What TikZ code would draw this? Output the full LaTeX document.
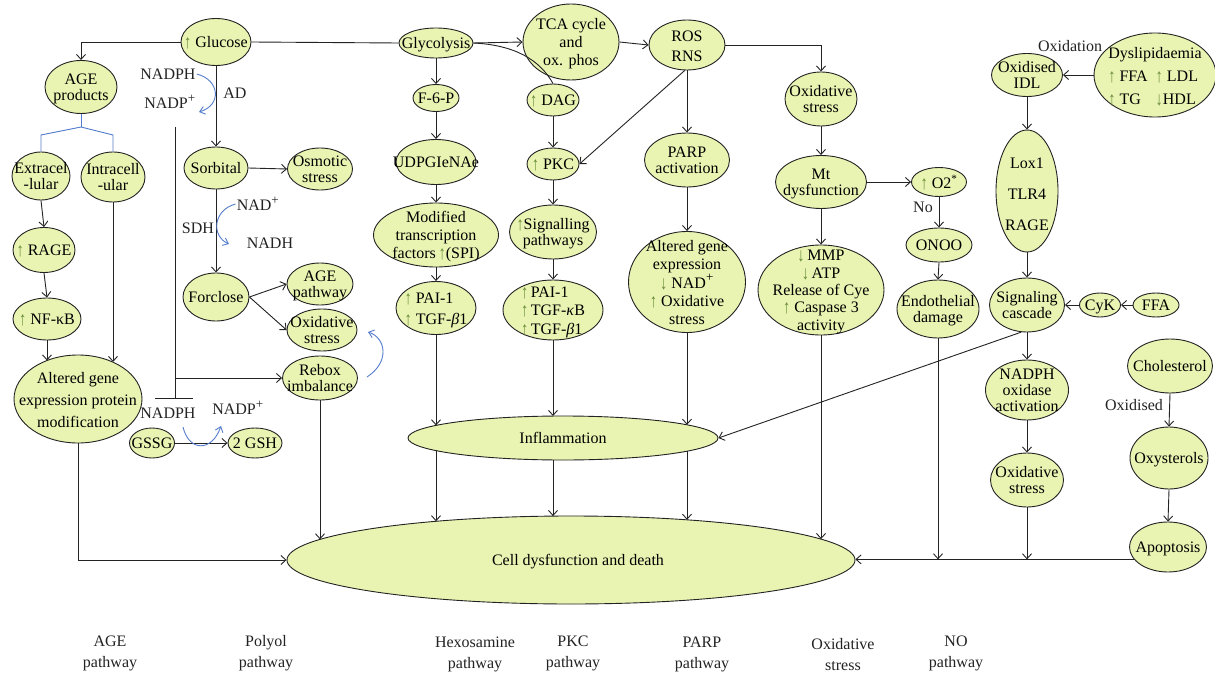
\documentclass[tikz,border=0pt]{standalone}
\usepackage{fontspec}
\usepackage{graphicx}
\setmainfont{Liberation Serif}
\usetikzlibrary{shapes.geometric,arrows.meta,calc}
\definecolor{fillc}{RGB}{233,244,178}
\definecolor{gr}{RGB}{105,140,55}
\definecolor{blc}{RGB}{85,125,205}
\definecolor{lnc}{RGB}{35,35,35}
\newcommand\up{{\color{gr}\raisebox{-1pt}{\scalebox{0.9}[1.2]{↑}}}}
\newcommand\dn{{\color{gr}\raisebox{-1pt}{\scalebox{0.9}[1.2]{↓}}}}
\newcommand\plusup{\textsuperscript{\fontsize{13}{13}\selectfont +}}
\newcommand\T[2][1]{\smash{\makebox[0pt]{\raisebox{-0.4em}{\def\arraystretch{#1}\begin{tabular}{@{}c@{}}#2\end{tabular}}}}}
\newcommand\TL[2][1]{\smash{\makebox[0pt]{\raisebox{-0.4em}{\def\arraystretch{#1}\begin{tabular}{@{}l@{}}#2\end{tabular}}}}}
\begin{document}
\begin{tikzpicture}[x=1pt,y=-1pt,font=\fontsize{16}{16}\selectfont,
  el/.style={ellipse,draw=lnc,line width=0.9pt,fill=fillc,inner sep=0pt},
  arr/.style={draw=lnc,line width=0.9pt,-{Straight Barb[length=5pt,width=9pt]}},
  plain/.style={draw=lnc,line width=0.9pt},
  blu/.style={draw=blc,line width=0.9pt,-{Straight Barb[length=5pt,width=8pt]}},
  bline/.style={draw=blc,line width=0.9pt},
  lbl/.style={inner sep=1pt,text=lnc}]
\fill[white] (0,0) rectangle (1215,674);
\useasboundingbox (0,0) rectangle (1215,674);

% ---- AGE / polyol ----
\node[el,minimum width=70,minimum height=47] (glu) at (216,42) {\T{\up\ Glucose}};
\node[el,minimum width=72,minimum height=53] (agep) at (81,87) {\T{AGE\\products}};
\node[el,minimum width=58,minimum height=48] (extra) at (41,176) {\T{Extracel\\-lular}};
\node[el,minimum width=64,minimum height=50] (intra) at (113,177) {\T{Intracell\\-ular}};
\node[el,minimum width=62,minimum height=45] (rage) at (44,250) {\T{\up\ RAGE}};
\node[el,minimum width=68,minimum height=42] (nfkb) at (47,319) {\T{\up\ NF-κB}};
\node[el,minimum width=128,minimum height=88] (altA) at (78,399) {\T[1.4]{Altered gene\\expression protein\\modification}};
\node[el,minimum width=64,minimum height=42] (sorb) at (216,168) {\T{Sorbital}};
\node[el,minimum width=65,minimum height=42] (osm) at (320,169) {\T{Osmotic\\stress}};
\node[el,minimum width=66,minimum height=48] (forc) at (216,297) {\T{Forclose}};
\node[el,minimum width=66,minimum height=42] (agepw) at (320,284) {\T{AGE\\pathway}};
\node[el,minimum width=70,minimum height=42] (oxp) at (322,330) {\T{Oxidative\\stress}};
\node[el,minimum width=75,minimum height=44] (rebox) at (320,378) {\T{Rebox\\imbalance}};
\node[el,minimum width=45,minimum height=30] (gssg) at (152,443) {\T{GSSG}};
\node[el,minimum width=54,minimum height=30] (gsh) at (255,443) {\T{2 GSH}};

% ---- hexosamine / PKC / PARP ----
\node[el,minimum width=74,minimum height=30] (gly) at (436,43) {\T{Glycolysis}};
\node[el,minimum width=96,minimum height=76] (tca) at (571,42) {\T[1.1]{TCA cycle\\and\\ox. phos}};
\node[el,minimum width=76,minimum height=50] (ros) at (687,45) {\T[1.25]{ROS\\RNS}};
\node[el,minimum width=46,minimum height=27] (f6p) at (436,98) {\T{F-6-P}};
\node[el,minimum width=80,minimum height=45] (udp) at (436,162) {\T{UDPGIeNAe}};
\node[el,minimum width=125,minimum height=64] (mod) at (436,235) {\T[1.12]{Modified\\transcription\\factors\,\up(SPI)}};
\node[el,minimum width=80,minimum height=53] (paih) at (436,308) {\TL[1.3]{\up\ PAI-1\\\up\ TGF-\textit{β}1}};
\node[el,minimum width=52,minimum height=32] (dag) at (553,100) {\T{\up\ DAG}};
\node[el,minimum width=52,minimum height=32] (pkc) at (553,164) {\T{\up\ PKC}};
\node[el,minimum width=87,minimum height=54] (sig) at (553,232) {\T{\up Signalling\\pathways}};
\node[el,minimum width=100,minimum height=60] (paip) at (553,310) {\TL[1.15]{\up\,PAI-1\\\up\,TGF-\textit{κ}B\\\up\,TGF-\textit{β}1}};
\node[el,minimum width=310,minimum height=44] (infl) at (563,438) {\T{Inflammation}};
\node[el,minimum width=85,minimum height=54] (parp) at (687,160) {\T{PARP\\activation}};
\node[el,minimum width=117,minimum height=101] (altP) at (687,282) {\T[1.12]{Altered gene\\expression\\\dn\ NAD\plusup\\\up\ Oxidative\\stress}};

% ---- oxidative / NO ----
\node[el,minimum width=72,minimum height=54] (oxs) at (821,99) {\T{Oxidative\\stress}};
\node[el,minimum width=91,minimum height=53] (mt) at (821,182) {\T{Mt\\dysfunction}};
\node[el,minimum width=126,minimum height=90] (mmp) at (821,290) {\T[1.08]{\dn\,MMP\\\dn\,ATP\\Release of Cye\\\up\ Caspase 3\\activity}};
\node[el,minimum width=55,minimum height=29] (o2) at (939,182) {\T{\up\ O2\textsuperscript{*}}};
\node[el,minimum width=66,minimum height=34] (onoo) at (939,245) {\T{ONOO}};
\node[el,minimum width=82,minimum height=58] (endo) at (938,309) {\T{Endothelial\\damage}};

% ---- right ----
\node[el,minimum width=122,minimum height=84] (dys) at (1155,75) {\smash{\makebox[0pt]{\raisebox{-0.4em}{\def\arraystretch{1.45}\begin{tabular}{@{}l@{\ \ }l@{}}\multicolumn{2}{@{}c@{}}{Dyslipidaemia}\\\up\ FFA & \up\ LDL\\\up\ TG & \dn HDL\end{tabular}}}}};
\node[el,minimum width=71,minimum height=43] (oxidl) at (1027,75) {\T{Oxidised\\IDL}};
\node[el,minimum width=62,minimum height=122] (lox) at (1027,191) {\T[1.95]{Lox1\\TLR4\\RAGE}};
\node[el,minimum width=75,minimum height=54] (sigc) at (1027,305) {\T{Signaling\\cascade}};
\node[el,minimum width=41,minimum height=24] (cyk) at (1100,305) {\T{CyK}};
\node[el,minimum width=46,minimum height=24] (ffa) at (1156,305) {\T{FFA}};
\node[el,minimum width=83,minimum height=60] (nox) at (1027,390) {\T{NADPH\\oxidase\\activation}};
\node[el,minimum width=73,minimum height=54] (oxr) at (1027,480) {\T{Oxidative\\stress}};
\node[el,minimum width=85,minimum height=54] (chol) at (1170,366) {\T{Cholesterol}};
\node[el,minimum width=78,minimum height=62] (oxy) at (1169,458) {\T{Oxysterols}};
\node[el,minimum width=77,minimum height=50] (apo) at (1168,547) {\T{Apoptosis}};

\node[el,minimum width=568,minimum height=88] (cell) at (571,560) {\T{\hspace*{14pt}Cell dysfunction and death}};

% ---- free labels ----
\node[lbl] (nadph1) at (168,74) {NADPH};
\node[lbl] (nadp1) at (170,102) {NADP\plusup};
\node[lbl] (ad) at (235,93) {AD};
\node[lbl] (sdh) at (198,228) {SDH};
\node[lbl] (nad2) at (258,204) {NAD\plusup};
\node[lbl] (nadh) at (270,243) {NADH};
\node[lbl] (nadph2) at (168,413) {NADPH};
\node[lbl] (nadp2) at (238,408) {NADP\plusup};
\node[lbl] (oxn) at (1070,46) {Oxidation};
\node[lbl] (oxd) at (1134,405) {Oxidised};
\node[lbl] (no) at (923,207) {No};

\node[lbl] (p1) at (110,651) {\T[1.3]{AGE\\pathway}};
\node[lbl] (p2) at (266,651) {\T[1.3]{Polyol\\pathway}};
\node[lbl] (p3) at (475,652) {\T[1.3]{Hexosamine\\pathway}};
\node[lbl] (p4) at (573,651) {\T[1.3]{PKC\\pathway}};
\node[lbl] (p5) at (702,652) {\T[1.3]{PARP\\pathway}};
\node[lbl] (p6) at (843,654) {\T[1.3]{Oxidative\\stress}};
\node[lbl] (p7) at (956,651) {\T[1.3]{NO\\pathway}};

% ---- coordinates on ellipse borders ----
\coordinate (aT1) at (47,360.5);
\coordinate (aT2) at (113,362);
\coordinate (iT1) at (436,425.4);
\coordinate (iB1) at (436,450.6);
\coordinate (iT2) at (553,416.0);
\coordinate (iB2) at (553,460.0);
\coordinate (iT3) at (687,424.8);
\coordinate (iB3) at (687,451.2);
\coordinate (cT0) at (320,539.4);
\coordinate (cT1) at (436,521.3);
\coordinate (cT2) at (553,516.1);
\coordinate (cT3) at (687,519.8);
\coordinate (cT4) at (821,539.1);
\coordinate (br) at (81,127);
\coordinate (vt) at (175,127);
\coordinate (vb) at (175,398);

% ---- connectors: AGE ----
\draw[arr] (glu.west) -| (agep.north);
\draw[bline] (agep.south) -- (br);
\draw[bline] (br) -- (extra.north |- 0,135) -- (extra.north);
\draw[bline] (br) -- (intra.north |- 0,135) -- (intra.north);
\draw[arr] (extra.south) -- (rage.north);
\draw[arr] (rage.south) -- (nfkb.north);
\draw[arr] (nfkb.south) -- (aT1);
\draw[arr] (intra.south) -- (aT2);
\draw[arr] (altA.south) |- (cell.west);

% ---- polyol ----
\draw[arr] (glu.south) -- (sorb.north);
\draw[arr] (sorb.east) -- (osm.west);
\draw[arr] (sorb.south) -- (forc.north);
\draw[arr] (forc.east) -- (agepw.west);
\draw[arr] (forc.east) -- (oxp.west);
\draw[plain] (vt) -- (vb);
\draw[plain] ([xshift=-20pt]vb) -- ([xshift=18pt]vb);
\draw[arr] (vt |- rebox.west) -- (rebox.west);
\draw[arr] (rebox.south) -- (cT0);
\draw[arr] (gssg.east) -- (gsh.west);
\draw[blu] (nadph1.east) .. controls (220,80) and (222,105) .. (199,112);
\draw[blu] (nad2.west) .. controls (213,210) and (211,236) .. (229,244);
\draw[blu] (183,427) .. controls (189,452) and (212,452) .. (221,426);
\draw[blu] (367,377) .. controls (390,362) and (386,338) .. (368,332);

% ---- glycolysis branch ----
\draw[plain] (glu.east) -- (gly.west);
\draw[arr] (gly.east) -- (tca.west);
\draw[arr] (tca.east) -- (ros.west);
\draw[plain] (gly.east) .. controls (515,45) and (540,60) .. (dag.north);
\draw[arr] (gly.south) -- (f6p.north);
\draw[arr] (f6p.south) -- (udp.north);
\draw[arr] (udp.south) -- (mod.north);
\draw[arr] (mod.south) -- (paih.north);
\draw[arr] (paih.south) -- (iT1);
\draw[arr] (iB1) -- (cT1);
\draw[arr] (dag.south) -- (pkc.north);
\draw[arr] (pkc.south) -- (sig.north);
\draw[arr] (sig.south) -- (paip.north);
\draw[arr] (paip.south) -- (iT2);
\draw[arr] (iB2) -- (cT2);
\draw[arr] (ros.265) -- (pkc.east);
\draw[arr] (ros.south) -- (parp.north);
\draw[arr] (parp.south) -- (altP.north);
\draw[arr] (altP.south) -- (iT3);
\draw[arr] (iB3) -- (cT3);

% ---- oxidative / NO ----
\draw[arr] (ros.east) -| (oxs.north);
\draw[arr] (oxs.south) -- (mt.north);
\draw[arr] (mt.south) -- (mmp.north);
\draw[arr] (mmp.south) -- (cT4);
\draw[arr] (mt.east) -- (o2.west);
\draw[arr] (o2.south) -- (onoo.north);
\draw[arr] (onoo.south) -- (endo.north);

% ---- right ----
\draw[arr] (dys.west) -- (oxidl.east);
\draw[arr] (oxidl.south) -- (lox.north);
\draw[arr] (lox.south) -- (sigc.north);
\draw[arr] (ffa.west) -- (cyk.east);
\draw[arr] (cyk.west) -- (sigc.east);
\draw[arr] (sigc.258) -- (infl.east);
\draw[arr] (sigc.south) -- (nox.north);
\draw[arr] (nox.south) -- (oxr.north);
\draw[arr] (chol.south) -- (oxy.north);
\draw[arr] (oxy.south) -- (apo.north);
\draw[arr] (apo.200) -- (apo.200 -| cell.east);
\draw[arr] (endo.south) -- (endo.south |- apo.200);
\draw[arr] (oxr.south) -- (oxr.south |- apo.200);
\end{tikzpicture}
\end{document}
